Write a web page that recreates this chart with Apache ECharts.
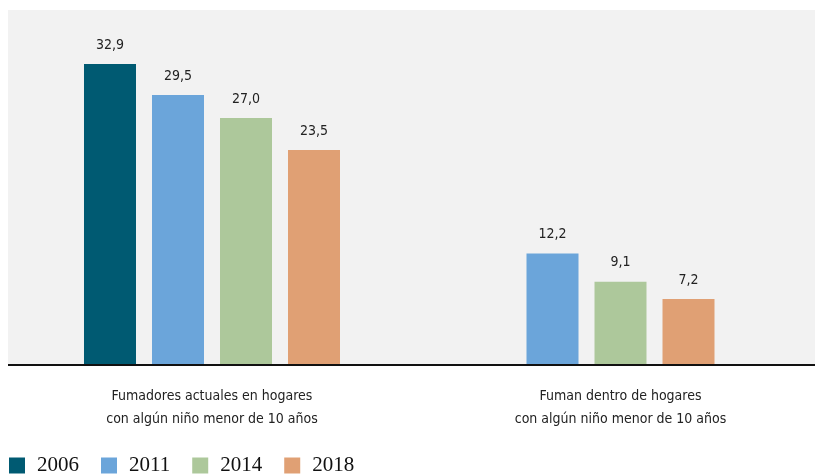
<!DOCTYPE html>
<html>
<head>
<meta charset="utf-8">
<script src="https://cdn.jsdelivr.net/npm/echarts@6/dist/echarts.min.js"></script>
<style>
  html, body { margin: 0; padding: 0; background: #ffffff; }
  #chart { width: 815px; height: 474px; }
</style>
</head>
<body>
<div id="chart"></div>
<script>
// Tobacco exposure in homes with children under 10, by survey year (%)
const years = ['2006', '2011', '2014', '2018'];
const groupCurrent = 'Fumadores actuales en hogares\ncon algún niño menor de 10 años';
const groupInside = 'Fuman dentro de hogares\ncon algún niño menor de 10 años';

// Left group: all four survey years
const currentValues = [32.9, 29.5, 27.0, 23.5];
// Right group: no 2006 measurement
const insideYears = ['2011', '2014', '2018'];
const insideValues = [12.2, 9.1, 7.2];

const yearColors = {
  '2006': '#005a72',
  '2011': '#6ba5da',
  '2014': '#adc89b',
  '2018': '#e0a074'
};

const font = '"DejaVu Sans Condensed", "DejaVu Sans", sans-serif';
const textColor = '#222222';
const yMax = 38.8;

// Plot panel geometry shared by both groups
const panel = { left: 8, right: 815, top: 10, bottom: 365 };
const chartHeight = 474;

function fmt(v) {
  return v.toFixed(1).replace('.', ',');
}

function barSeries(name, value, gridIndex) {
  return {
    name: name,
    type: 'bar',
    xAxisIndex: gridIndex,
    yAxisIndex: gridIndex,
    data: [value],
    barWidth: 52,
    barGap: '30.77%',
    z: 3,
    itemStyle: { color: yearColors[name] },
    label: {
      show: true,
      position: 'top',
      distance: 12,
      formatter: p => fmt(p.value),
      fontFamily: font,
      fontSize: 14,
      color: textColor
    }
  };
}

const series = [];
years.forEach((y, i) => series.push(barSeries(y, currentValues[i], 0)));
insideYears.forEach((y, i) => series.push(barSeries(y, insideValues[i], 1)));

function xAxisFor(gridIndex, category) {
  return {
    type: 'category',
    gridIndex: gridIndex,
    data: [category],
    axisTick: { show: false },
    axisLine: { show: false },
    axisLabel: {
      margin: 20,
      fontFamily: font,
      fontSize: 14,
      lineHeight: 23,
      color: textColor
    }
  };
}

function yAxisFor(gridIndex) {
  return {
    type: 'value',
    gridIndex: gridIndex,
    min: 0,
    max: yMax,
    show: false,
    splitLine: { show: false }
  };
}

const gridBottom = chartHeight - panel.bottom;

const chart = echarts.init(document.getElementById('chart'), null, { renderer: 'canvas' });
chart.setOption({
  animation: false,
  backgroundColor: '#ffffff',
  graphic: [
    {
      type: 'rect',
      z: -10,
      silent: true,
      shape: {
        x: panel.left,
        y: panel.top,
        width: panel.right - panel.left,
        height: panel.bottom - panel.top
      },
      style: { fill: '#f2f2f2' }
    },
    {
      type: 'line',
      z: 100,
      silent: true,
      shape: { x1: panel.left, y1: panel.bottom, x2: panel.right, y2: panel.bottom },
      style: { stroke: '#111111', lineWidth: 2 }
    }
  ],
  grid: [
    { left: 8, width: 408, top: panel.top, bottom: gridBottom },
    { left: 426, width: 389, top: panel.top, bottom: gridBottom }
  ],
  xAxis: [xAxisFor(0, groupCurrent), xAxisFor(1, groupInside)],
  yAxis: [yAxisFor(0), yAxisFor(1)],
  legend: {
    data: years,
    left: 9,
    top: 455,
    padding: 0,
    itemWidth: 16,
    itemHeight: 16,
    itemGap: 22,
    icon: 'rect',
    selectedMode: false,
    textStyle: {
      fontFamily: '"Liberation Serif", "DejaVu Serif", serif',
      fontSize: 21,
      color: '#111111',
      padding: [2, 0, 0, 7]
    }
  },
  series: series
});
</script>
</body>
</html>
